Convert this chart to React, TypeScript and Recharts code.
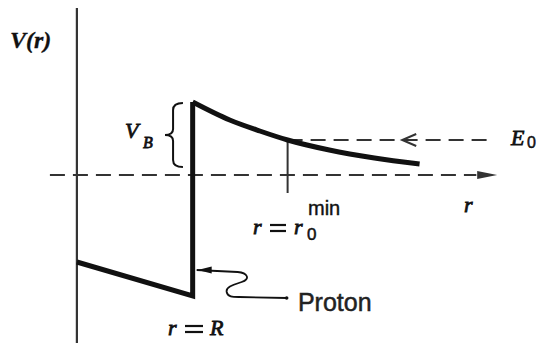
import { Line, LineChart, ReferenceArea, ReferenceDot, ReferenceLine, XAxis, YAxis } from "recharts";

// potential inside the nucleus, then the wall at r = R
const wellR = [0, 1, 1];
const wellV = [-8.7, -12.1, 7.3];

// Coulomb tail outside the nucleus
const tailR = [1, 1.32, 1.58, 1.82, 2.18, 2.57, 2.96];
const tailV = [7.3, 5.5, 4.4, 3.5, 2.5, 1.7, 1.1];

const energyE0 = 3.5;
const rMin = 1.82;
const axisEnd = 3.45;
const axisTip = 3.63;
const energyEnd = 3.59;
const energyArrow = 2.81;

const wellData = wellR.map((r, i) => ({ r, v: wellV[i] }));
const tailData = tailR.map((r, i) => ({ r, v: tailV[i] }));

const ink = "#111";
const axisInk = "#333";
const serif = '"Liberation Serif", "DejaVu Serif", serif';
const sans = '"Liberation Sans", Arial, sans-serif';

const italic = {
  fontFamily: serif,
  fontStyle: "italic" as const,
  fontSize: 22,
  fill: ink,
  stroke: ink,
  strokeWidth: 0.8,
};

const upright = {
  fontFamily: sans,
  fill: ink,
  stroke: ink,
  strokeWidth: 0.5,
};

function Brace(props: any) {
  const { x, y, width, height } = props;
  const s = x + width * 0.45;
  const m = y + height / 2;
  const d = `M${x + width},${y} Q${s},${y} ${s},${y + 7} L${s},${m - 6} Q${s},${m} ${x},${m} Q${s},${m} ${s},${m + 6} L${s},${y + height - 7} Q${s},${y + height} ${x + width},${y + height}`;
  return <path d={d} fill="none" stroke={ink} strokeWidth={2} />;
}

function Squiggle(props: any) {
  const { cx, cy } = props;
  const d = `M${cx + 4},${cy} L${cx + 45},${cy + 2} C${cx + 55},${cy + 3} ${cx + 58},${cy + 9} ${cx + 49},${cy + 12} C${cx + 40},${cy + 15} ${cx + 33},${cy + 17} ${cx + 34},${cy + 22} C${cx + 35},${cy + 27} ${cx + 40},${cy + 27} ${cx + 46},${cy + 27} L${cx + 94},${cy + 28}`;
  return (
    <g>
      <path d={d} fill="none" stroke={ink} strokeWidth={1.8} />
      <polygon
        points={`${cx + 5},${cy} ${cx + 19},${cy - 3.5} ${cx + 19},${cy + 3.5}`}
        fill={ink}
      />
      <circle cx={cx + 94} cy={cy + 28} r={1.8} fill={ink} />
    </g>
  );
}

function Equals({ x, y, w }: { x: number; y: number; w: number }) {
  return (
    <g stroke={ink} strokeWidth={2.2}>
      <line x1={x} y1={y - 9} x2={x + w} y2={y - 9} />
      <line x1={x} y1={y - 3} x2={x + w} y2={y - 3} />
    </g>
  );
}

export default function App() {
  return (
    <div style={{ position: "absolute", left: 0, top: 0, background: "#fff" }}>
      <LineChart width={540} height={347} margin={{ top: 5, right: 0, bottom: 2, left: 19 }}>
        <XAxis type="number" dataKey="r" domain={[-0.5, 4]} hide />
        <YAxis type="number" dataKey="v" domain={[-17, 17]} hide />

        {/* V axis */}
        <ReferenceLine
          segment={[{ x: 0, y: 16.7 }, { x: 0, y: -16.8 }]}
          stroke={axisInk}
          strokeWidth={2.2}
          ifOverflow="visible"
        />
        {/* r axis, dashed */}
        <ReferenceLine
          segment={[{ x: -0.233, y: 0 }, { x: axisEnd, y: 0 }]}
          stroke={axisInk}
          strokeWidth={2}
          strokeDasharray="15 8"
          ifOverflow="visible"
        />
        <ReferenceDot
          x={axisTip}
          y={0}
          r={0}
          ifOverflow="visible"
          shape={(p: any) => (
            <polygon
              points={`${p.cx},${p.cy} ${p.cx - 20},${p.cy - 4} ${p.cx - 20},${p.cy + 4}`}
              fill={axisInk}
            />
          )}
        />

        {/* incident energy E0 */}
        <ReferenceLine
          segment={[{ x: rMin, y: energyE0 }, { x: energyEnd, y: energyE0 }]}
          stroke={axisInk}
          strokeWidth={2}
          strokeDasharray="15 8"
          ifOverflow="visible"
        />
        <ReferenceDot
          x={energyArrow}
          y={energyE0}
          r={0}
          ifOverflow="visible"
          shape={(p: any) => (
            <path
              d={`M${p.cx + 14},${p.cy - 6} L${p.cx},${p.cy} L${p.cx + 14},${p.cy + 6}`}
              fill="none"
              stroke={axisInk}
              strokeWidth={2}
            />
          )}
        />
        {/* r0 min marker */}
        <ReferenceLine
          segment={[{ x: rMin, y: energyE0 }, { x: rMin, y: -1.8 }]}
          stroke={axisInk}
          strokeWidth={2}
          ifOverflow="visible"
        />

        <ReferenceArea
          x1={0.761}
          x2={0.916}
          y1={0.8}
          y2={7.2}
          ifOverflow="visible"
          shape={Brace}
        />
        <ReferenceDot x={1} y={-9.5} r={0} ifOverflow="visible" shape={Squiggle} />

        <Line
          data={wellData}
          dataKey="v"
          type="linear"
          stroke={ink}
          strokeWidth={5}
          strokeLinejoin="miter"
          dot={false}
          isAnimationActive={false}
        />
        <Line
          data={tailData}
          dataKey="v"
          type="monotone"
          stroke={ink}
          strokeWidth={5}
          dot={false}
          isAnimationActive={false}
        />

        {/* labels */}
        <ReferenceDot
          x={-0.578}
          y={12.7}
          r={0}
          ifOverflow="visible"
          shape={(p: any) => (
            <text x={p.cx} y={p.cy} {...italic} fontSize={24} fontWeight="bold" strokeWidth={0.3}>
              V(r)
            </text>
          )}
        />
        <ReferenceDot
          x={0.415}
          y={3.7}
          r={0}
          ifOverflow="visible"
          shape={(p: any) => (
            <g>
              <text x={p.cx} y={p.cy} {...italic}>
                V
              </text>
              <text x={p.cx + 18} y={p.cy + 10} {...italic} fontSize={16}>
                B
              </text>
            </g>
          )}
        />
        <ReferenceDot
          x={0.787}
          y={-16}
          r={0}
          ifOverflow="visible"
          shape={(p: any) => (
            <g>
              <text x={p.cx} y={p.cy} {...italic}>
                r
              </text>
              <Equals x={p.cx + 17} y={p.cy} w={18} />
              <text x={p.cx + 42} y={p.cy} {...italic}>
                R
              </text>
            </g>
          )}
        />
        <ReferenceDot
          x={1.521}
          y={-5.9}
          r={0}
          ifOverflow="visible"
          shape={(p: any) => (
            <g>
              <text x={p.cx} y={p.cy} {...italic}>
                r
              </text>
              <Equals x={p.cx + 17} y={p.cy} w={16} />
              <text x={p.cx + 41} y={p.cy} {...italic}>
                r
              </text>
              <text x={p.cx + 54} y={p.cy + 6} {...upright} fontSize={17}>
                0
              </text>
              <text x={p.cx + 55} y={p.cy - 19} {...upright} fontSize={20} strokeWidth={0.4}>
                min
              </text>
            </g>
          )}
        />
        <ReferenceDot
          x={3.343}
          y={-3.7}
          r={0}
          ifOverflow="visible"
          shape={(p: any) => (
            <text x={p.cx} y={p.cy} {...italic}>
              r
            </text>
          )}
        />
        <ReferenceDot
          x={3.749}
          y={3.0}
          r={0}
          ifOverflow="visible"
          shape={(p: any) => (
            <g>
              <text x={p.cx} y={p.cy} {...italic}>
                E
              </text>
              <text x={p.cx + 16} y={p.cy + 3} {...upright} fontSize={16}>
                0
              </text>
            </g>
          )}
        />
        <ReferenceDot
          x={1.909}
          y={-13.6}
          r={0}
          ifOverflow="visible"
          shape={(p: any) => (
            <text x={p.cx} y={p.cy} fontFamily={sans} fontSize={25} fill="#222" stroke="#222" strokeWidth={0.5}>
              Proton
            </text>
          )}
        />
      </LineChart>
    </div>
  );
}
